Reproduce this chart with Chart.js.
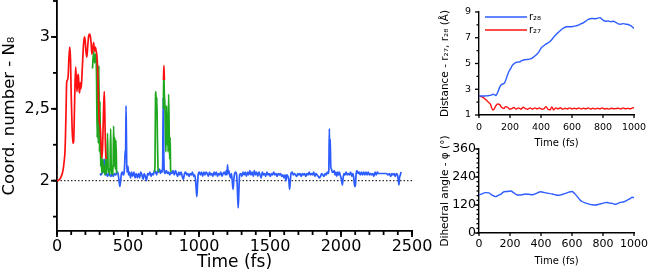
<!DOCTYPE html>
<html>
<head>
<meta charset="utf-8">
<script src="https://cdn.jsdelivr.net/npm/chart.js@4"></script>
<style>
  body { margin: 0; background: #fff; }
  #wrap { position: relative; width: 650px; height: 278px; overflow: hidden; }
  canvas { position: absolute; }
</style>
</head>
<body>
<div id="wrap">
  <canvas id="mainChart" width="440" height="278" style="left:0;top:0"></canvas>
  <canvas id="distChart" width="230" height="150" style="left:420px;top:0"></canvas>
  <canvas id="angleChart" width="230" height="143" style="left:420px;top:135px"></canvas>
</div>
<script>
// main panel: coordination number vs time, [time fs, value]
const redMain = [[0,2.0],[15,2.005],[30,2.03],[42,2.07],[50,2.13],[56,2.2],[60,2.32],[64,2.5],[68,2.68],[73,2.7],[78,2.72],[84,2.85],[90,2.93],[95,2.85],[100,2.6],[106,2.38],[112,2.26],[117,2.27],[122,2.45],[127,2.68],[132,2.79],[137,2.68],[141,2.62],[146,2.72],[151,2.74],[155,2.64],[159,2.61],[164,2.68],[168,2.64],[173,2.68],[180,2.82],[187,2.95],[193,3.0],[198,2.98],[204,2.9],[210,2.86],[216,2.93],[222,3.0],[228,3.02],[234,3.01],[240,2.96],[246,2.88],[252,2.92],[258,2.96],[264,2.9],[270,2.93],[276,2.9],[282,2.86],[288,2.72],[294,2.5],[299,2.4],[304,2.38],[309,2.28],[314,2.18],[318,2.16],[323,2.3],[328,2.5],[333,2.62],[337,2.45],[341,2.25],[345,2.15]];
const redTip = [[750,2.7],[753,2.8],[756,2.7]];
const greenFirst = [[250,2.78],[258,2.9],[265,2.82],[272,2.88],[278,2.75],[283,2.3],[287,2.72],[291,2.26],[295,2.8],[299,2.2],[303,2.55],[307,2.1],[311,2.2],[316,2.05],[322,2.15],[327,2.06],[333,2.1],[338,2.04],[344,2.15],[350,2.05],[356,2.33],[361,2.06],[367,2.08],[372,2.04],[378,2.36],[383,2.05],[389,2.1],[394,2.04],[399,2.38],[403,2.1],[407,2.3],[411,2.08],[415,2.28],[420,2.05]];
const greenSecondA = [[685,2.06],[690,2.1],[694,2.6],[697,2.62],[700,2.45],[703,2.58],[707,2.3],[711,2.1],[715,2.06]];
const greenSecondB = [[749,2.5],[752,2.76],[756,2.6],[760,2.53],[764,2.3],[767,2.2],[772,2.52],[776,2.25],[779,2.45],[782,2.2],[786,2.6],[790,2.35],[793,2.15],[797,2.3],[800,2.08],[805,2.06]];
const blue = [[303,2.05],[309,2.04],[316,2.05],[322,2.06],[328,2.11],[333,2.15],[337,2.07],[342,2.04],[349,2.05],[356,2.03],[364,2.05],[372,2.04],[380,2.03],[388,2.05],[396,2.03],[404,2.05],[412,2.04],[420,2.05],[427,2.06],[433,2.03],[438,1.99],[443,1.96],[448,2.0],[454,2.05],[461,2.06],[467,2.04],[473,2.06],[477,2.12],[480,2.21],[483,2.18],[486,2.52],[489,2.3],[492,2.06],[496,2.08],[500,2.1],[504,2.04],[511,2.06],[518,2.02],[526,2.06],[534,2.03],[542,2.06],[550,2.02],[558,2.05],[566,2.02],[574,2.05],[582,2.02],[590,2.06],[598,2.04],[606,2.01],[614,2.05],[622,2.03],[630,2.0],[638,2.05],[646,2.04],[654,2.06],[662,2.03],[670,2.05],[678,2.04],[686,2.07],[694,2.06],[702,2.04],[708,2.07],[715,2.06],[722,2.08],[728,2.05],[734,2.07],[740,2.06],[744,2.1],[748,2.58],[752,2.2],[756,2.06],[762,2.05],[770,2.07],[778,2.05],[786,2.06],[794,2.04],[802,2.06],[810,2.05],[818,2.07],[826,2.04],[834,2.07],[842,2.05],[850,2.03],[858,2.06],[866,2.04],[874,2.06],[882,2.03],[890,2.01],[898,2.05],[906,2.06],[914,2.04],[922,2.05],[930,2.03],[938,2.05],[946,2.04],[954,2.06],[962,2.03],[970,2.04],[976,2.0],[981,1.93],[985,1.89],[989,1.96],[994,2.04],[1002,2.06],[1010,2.04],[1018,2.06],[1026,2.03],[1034,2.06],[1042,2.04],[1050,2.06],[1058,2.05],[1066,2.03],[1074,2.06],[1082,2.04],[1090,2.05],[1098,2.03],[1106,2.06],[1114,2.04],[1122,2.06],[1130,2.03],[1138,2.05],[1146,2.04],[1154,2.06],[1162,2.03],[1170,2.05],[1178,2.06],[1186,2.04],[1192,2.07],[1197,2.04],[1201,2.11],[1205,2.05],[1210,2.07],[1216,2.04],[1222,2.02],[1228,2.05],[1234,2.0],[1240,1.94],[1245,2.0],[1251,2.05],[1258,2.06],[1265,2.04],[1270,1.95],[1276,1.81],[1281,1.93],[1286,2.04],[1294,2.05],[1302,2.03],[1310,2.06],[1318,2.04],[1326,2.06],[1334,2.03],[1342,2.06],[1350,2.04],[1358,2.07],[1366,2.04],[1374,2.06],[1382,2.03],[1390,2.07],[1398,2.04],[1406,2.06],[1414,2.03],[1422,2.06],[1430,2.04],[1438,2.02],[1446,2.06],[1454,2.04],[1462,2.05],[1470,2.03],[1478,2.06],[1486,2.04],[1494,2.05],[1502,2.03],[1510,2.05],[1518,2.04],[1526,2.06],[1534,2.04],[1542,2.05],[1550,2.03],[1558,2.05],[1566,2.04],[1574,2.05],[1582,2.03],[1590,2.04],[1598,2.02],[1606,2.04],[1612,2.0],[1618,2.04],[1626,2.03],[1633,2.0],[1638,1.94],[1643,2.0],[1648,2.05],[1656,2.06],[1664,2.04],[1672,2.05],[1680,2.04],[1688,2.03],[1696,2.05],[1704,2.04],[1712,2.05],[1720,2.03],[1728,2.05],[1736,2.04],[1744,2.05],[1752,2.03],[1760,2.05],[1768,2.04],[1776,2.06],[1784,2.04],[1792,2.05],[1800,2.04],[1808,2.06],[1816,2.03],[1824,2.05],[1832,2.04],[1840,2.03],[1848,2.02],[1856,2.03],[1864,2.05],[1872,2.04],[1880,2.03],[1888,2.05],[1896,2.04],[1904,2.06],[1910,2.05],[1914,2.07],[1918,2.36],[1921,2.15],[1924,2.29],[1928,2.1],[1933,2.08],[1938,2.06],[1946,2.06],[1952,2.07],[1958,2.04],[1964,2.06],[1970,2.03],[1976,2.06],[1982,2.04],[1988,2.06],[1994,2.04],[2000,2.02],[2006,1.99],[2010,1.97],[2015,2.02],[2021,2.05],[2028,2.04],[2036,2.06],[2044,2.04],[2052,2.05],[2060,2.04],[2068,2.06],[2076,2.03],[2084,2.05],[2090,2.02],[2096,1.96],[2101,1.96],[2106,2.04],[2112,2.07],[2120,2.05],[2128,2.06],[2136,2.04],[2144,2.06],[2152,2.04],[2160,2.06],[2168,2.04],[2176,2.06],[2184,2.04],[2192,2.06],[2200,2.04],[2208,2.05],[2216,2.04],[2224,2.05],[2232,2.03],[2240,2.06],[2248,2.04],[2256,2.06],[2264,2.05],[2272,2.05],[2280,2.05],[2290,2.05],[2300,2.05],[2310,2.05],[2320,2.05],[2330,2.04],[2340,2.05],[2350,2.03],[2358,2.05],[2366,2.04],[2374,2.05],[2382,2.03],[2390,2.05],[2398,2.04],[2404,2.0],[2408,1.97],[2412,2.02],[2418,2.04],[2423,2.06]];
const baseline = [[0,2],[2500,2]];

// right top: distances r28 / r27 (Å)
const r28 = [[0,2.47],[20,2.47],[40,2.48],[60,2.5],[80,2.55],[92,2.62],[100,2.56],[110,2.52],[120,2.75],[135,3.2],[150,3.4],[165,3.5],[178,3.9],[190,4.3],[204,4.6],[215,4.85],[228,5.0],[243,5.1],[260,5.12],[280,5.25],[300,5.3],[320,5.32],[340,5.4],[362,5.6],[383,5.85],[404,6.25],[420,6.4],[437,6.55],[452,6.65],[469,6.85],[485,7.1],[501,7.3],[515,7.45],[527,7.58],[545,7.75],[566,7.85],[590,7.85],[609,7.88],[625,7.92],[641,7.98],[660,8.1],[673,8.16],[690,8.3],[705,8.42],[727,8.5],[745,8.48],[759,8.5],[780,8.56],[792,8.45],[802,8.35],[820,8.28],[834,8.3],[850,8.25],[866,8.28],[882,8.2],[898,8.08],[915,8.05],[930,8.1],[947,8.05],[963,8.03],[975,7.95],[988,7.85],[1000,7.72]];
const r27 = [[0,2.47],[20,2.4],[43,2.2],[60,2.0],[75,1.8],[88,1.4],[97,1.45],[108,1.7],[120,1.85],[132,1.82],[145,1.6],[160,1.5],[172,1.65],[185,1.6],[198,1.45],[212,1.5],[225,1.58],[240,1.45],[255,1.55],[270,1.45],[285,1.6],[300,1.5],[315,1.45],[330,1.55],[345,1.45],[360,1.55],[375,1.48],[390,1.55],[405,1.45],[420,1.5],[432,1.65],[445,1.45],[458,1.4],[470,1.62],[482,1.4],[495,1.55],[510,1.48],[525,1.56],[540,1.45],[555,1.52],[570,1.47],[585,1.55],[600,1.47],[615,1.52],[630,1.48],[645,1.55],[660,1.46],[675,1.52],[690,1.48],[705,1.55],[720,1.46],[735,1.53],[750,1.47],[765,1.52],[780,1.48],[795,1.55],[810,1.47],[825,1.5],[840,1.46],[855,1.53],[870,1.48],[885,1.5],[900,1.52],[915,1.47],[930,1.55],[945,1.48],[960,1.52],[975,1.48],[990,1.55],[1000,1.57]];

// right bottom: dihedral angle (deg)
const dihedral = [[0,163],[20,168],[40,173],[64,172],[85,162],[107,156],[120,160],[129,163],[145,168],[161,177],[180,178],[204,180],[225,172],[247,163],[270,163],[300,167],[320,166],[344,164],[370,170],[398,177],[430,172],[450,170],[473,167],[495,163],[516,162],[540,166],[559,170],[580,175],[600,178],[615,170],[634,156],[650,143],[667,134],[690,128],[710,124],[730,121],[753,120],[775,124],[796,127],[812,130],[828,131],[845,128],[860,127],[882,123],[900,128],[914,131],[935,134],[957,141],[975,147],[989,153],[1000,151]];

// ticks
const mainXTicks = [0, 500, 1000, 1500, 2000, 2500];
const mainYTicks = [2, 2.5, 3];
const mainYLabels = ['2', '2,5', '3'];
const sideXTicks = [0, 200, 400, 600, 800, 1000];
const distYTicks = [1, 3, 5, 7, 9];
const angleYTicks = [0, 120, 240, 360];

const RED = '#ff1010', GREEN = '#1fa81f', BLUE = '#2d5cff';

Chart.defaults.font.family = 'DejaVu Sans';
Chart.defaults.color = '#000';

function steps(from, to, step) {
  let out = [];
  for (let v = from; v <= to + 1e-9; v += step) out.push(Math.round(v * 1000) / 1000);
  return out;
}

function line(label, pairs, color, width) {
  return {
    label: label,
    data: pairs.map(p => ({x: p[0], y: p[1]})),
    borderColor: color,
    borderWidth: width,
    pointRadius: 0,
    fill: false,
    cubicInterpolationMode: 'monotone'
  };
}

// outward tick marks, major and minor
const tickMarks = {
  id: 'tickMarks',
  afterDraw(chart, args, opts) {
    const ctx = chart.ctx;
    ctx.save();
    ctx.strokeStyle = '#000';
    ctx.lineWidth = opts.width || 1.5;
    Object.keys(opts.axes || {}).forEach(function(id) {
      const a = opts.axes[id];
      const scale = chart.scales[id];
      const marks = a.major.map(v => [v, a.majorLen]).concat((a.minor || []).map(v => [v, a.minorLen]));
      marks.forEach(function(m) {
        const p = scale.getPixelForValue(m[0]);
        ctx.beginPath();
        if (scale.isHorizontal()) {
          ctx.moveTo(p, scale.top);
          ctx.lineTo(p, scale.top + m[1]);
        } else {
          ctx.moveTo(scale.right, p);
          ctx.lineTo(scale.right - m[1], p);
        }
        ctx.stroke();
      });
    });
    ctx.restore();
  }
};

// small legend drawn inside the plot area
const innerLegend = {
  id: 'innerLegend',
  afterDraw(chart, args, opts) {
    if (!opts.show) return;
    const ctx = chart.ctx;
    const area = chart.chartArea;
    ctx.save();
    ctx.font = '10px "DejaVu Sans"';
    ctx.textBaseline = 'middle';
    chart.data.datasets.forEach(function(ds, i) {
      const y = area.top + 5 + i * 13;
      ctx.strokeStyle = ds.borderColor;
      ctx.lineWidth = 1.4;
      ctx.beginPath();
      ctx.moveTo(area.left + 6, y);
      ctx.lineTo(area.left + 48, y);
      ctx.stroke();
      ctx.fillStyle = '#000';
      ctx.fillText(ds.label, area.left + 50, y);
    });
    ctx.restore();
  }
};

function scaleOpts(o) {
  return {
    type: 'linear',
    min: o.min,
    max: o.max,
    afterBuildTicks: s => { s.ticks = o.ticks.map(v => ({value: v})); },
    afterFit: s => {
      if (o.height) s.height = o.height;
      if (o.width) s.width = o.width;
      // keep the plot area where the layout padding puts it
      s.paddingTop = 0; s.paddingBottom = 0; s.paddingLeft = 0; s.paddingRight = 0;
    },
    grid: {drawOnChartArea: false, drawTicks: false},
    border: {color: '#000', width: o.border || 1.5},
    ticks: {
      font: {size: o.tickSize},
      padding: o.tickPad,
      color: '#000',
      maxRotation: 0,
      autoSkip: false,
      callback: o.labels ? (v => o.labels[o.ticks.indexOf(v)]) : (v => String(v))
    },
    title: {display: true, text: o.title, color: '#000', font: {size: o.titleSize}, padding: o.titlePad}
  };
}

new Chart(document.getElementById('mainChart'), {
  type: 'line',
  data: {
    datasets: [
      line('red', redMain, RED, 1.7),
      line('red tip', redTip, RED, 1.7),
      line('green', greenFirst, GREEN, 1.7),
      line('green 2', greenSecondA, GREEN, 1.7),
      line('green 3', greenSecondB, GREEN, 1.7),
      line('blue', blue, BLUE, 1.7),
      Object.assign(line('N=2', baseline, '#000', 1), {borderDash: [1.5, 2], cubicInterpolationMode: 'default'})
    ]
  },
  options: {
    responsive: false,
    animation: false,
    layout: {padding: {top: 1, right: 28, left: 0, bottom: 0}},
    plugins: {
      legend: {display: false},
      tooltip: {enabled: false},
      tickMarks: {
        width: 1.8,
        axes: {
          x: {major: mainXTicks, minor: steps(0, 2500, 100), majorLen: 6, minorLen: 4},
          y: {major: mainYTicks, minor: steps(1.75, 3.25, 0.25), majorLen: 6, minorLen: 4}
        }
      }
    },
    scales: {
      x: scaleOpts({min: 0, max: 2500, ticks: mainXTicks, height: 47, border: 1.8, tickSize: 16, tickPad: 6,
        title: 'Time (fs)', titleSize: 17, titlePad: {top: 0, bottom: 5}}),
      y: scaleOpts({min: 1.65, max: 3.25, ticks: mainYTicks, labels: mainYLabels, width: 57, border: 1.8, tickSize: 16, tickPad: 7,
        title: 'Coord. number - N\u2088', titleSize: 16.5, titlePad: {top: 0, bottom: 0}})
    }
  },
  plugins: [tickMarks, innerLegend]
});

new Chart(document.getElementById('distChart'), {
  type: 'line',
  data: {
    datasets: [
      line('r\u2082\u2088', r28, BLUE, 1.4),
      line('r\u2082\u2087', r27, RED, 1.4)
    ]
  },
  options: {
    responsive: false,
    animation: false,
    layout: {padding: {top: 12, right: 16, left: 0, bottom: 0}},
    plugins: {
      legend: {display: false},
      tooltip: {enabled: false},
      innerLegend: {show: true},
      tickMarks: {
        width: 1.3,
        axes: {
          x: {major: sideXTicks, minor: [], majorLen: 3, minorLen: 2},
          y: {major: distYTicks, minor: steps(2, 8, 2), majorLen: 4, minorLen: 2.5}
        }
      }
    },
    scales: {
      x: scaleOpts({min: 0, max: 1000, ticks: sideXTicks, height: 35, border: 1.4, tickSize: 9.5, tickPad: 7,
        title: 'Time (fs)', titleSize: 10, titlePad: {top: 0, bottom: 1}}),
      y: scaleOpts({min: 1, max: 9, ticks: distYTicks, width: 59, border: 1.4, tickSize: 9.5, tickPad: 8,
        title: 'Distance - r\u2082\u2087, r\u2082\u2088 (\u00c5)', titleSize: 10.5, titlePad: {top: 19, bottom: 0}})
    }
  },
  plugins: [tickMarks, innerLegend]
});

new Chart(document.getElementById('angleChart'), {
  type: 'line',
  data: {
    datasets: [line('\u03c6', dihedral, BLUE, 1.4)]
  },
  options: {
    responsive: false,
    animation: false,
    layout: {padding: {top: 14, right: 16, left: 0, bottom: 0}},
    plugins: {
      legend: {display: false},
      tooltip: {enabled: false},
      tickMarks: {
        width: 1.3,
        axes: {
          x: {major: sideXTicks, minor: [], majorLen: 3, minorLen: 2},
          y: {major: angleYTicks, minor: steps(0, 360, 20), majorLen: 4, minorLen: 2.5}
        }
      }
    },
    scales: {
      x: scaleOpts({min: 0, max: 1000, ticks: sideXTicks, height: 45, border: 1.4, tickSize: 11, tickPad: 5,
        title: 'Time (fs)', titleSize: 10, titlePad: {top: 0, bottom: 11}}),
      y: scaleOpts({min: 0, max: 360, ticks: angleYTicks, width: 59, border: 1.4, tickSize: 12.5, tickPad: 3,
        title: 'Dihedral angle - \u03c6 (\u00b0)', titleSize: 10.5, titlePad: {top: 19, bottom: 0}})
    }
  },
  plugins: [tickMarks, innerLegend]
});
</script>
</body>
</html>
